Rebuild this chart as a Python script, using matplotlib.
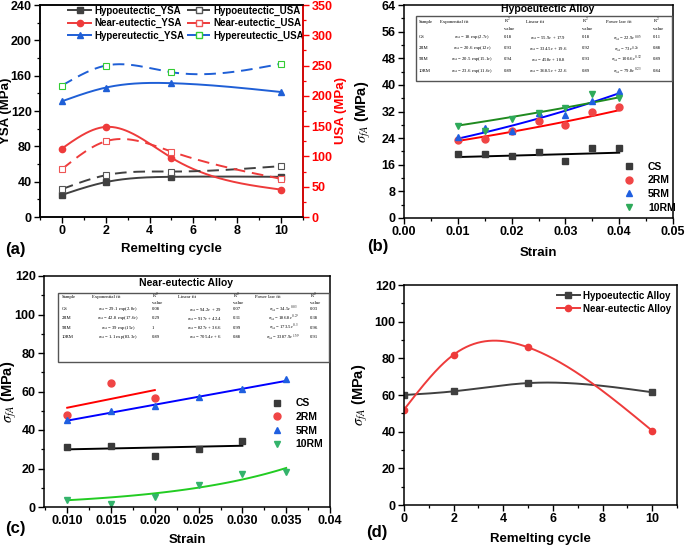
import numpy as np
import matplotlib
matplotlib.use("Agg")
import matplotlib.pyplot as plt
from matplotlib.patches import Rectangle
from matplotlib.ticker import MultipleLocator
from matplotlib.lines import Line2D

plt.rcParams['font.family'] = ['Liberation Sans', 'DejaVu Sans']
plt.rcParams['mathtext.fontset'] = 'stix'

# ---------------- data ----------------
cycles = [0, 2, 5, 10]
hypo_ysa = [25, 39.5, 45.5, 45.5]
near_ysa = [77.5, 102, 67, 31]
hyper_ysa = [131, 146.5, 151.5, 141.5]
hypo_usa = [46, 69, 75, 84]
near_usa = [79, 125, 108, 63]
hyper_usa = [217, 250, 239, 253]

strain_b = [0.010, 0.015, 0.020, 0.025, 0.030, 0.035, 0.040]
b_cs = [19.2, 19.2, 18.5, 19.8, 17.0, 21.1, 21.1]
b_2rm = [23.4, 23.6, 26.0, 29.2, 27.9, 31.7, 33.5]
b_5rm = [24.2, 27.0, 26.2, 31.5, 31.0, 35.3, 38.3]
b_10rm = [27.7, 26.2, 29.8, 31.5, 33.2, 37.3, 36.2]
# exponential fit lines a*exp(b*strain) as drawn
b_fit_a = [17.9, 20.7, 20.5, 25.4]
b_fit_b = [2.3, 11.2, 15.1, 8.9]

c_strain_cs = [0.010, 0.015, 0.020, 0.025, 0.030]
c_cs = [31.4, 31.9, 26.7, 30.2, 34.3]
c_strain_2rm = [0.010, 0.015, 0.020]
c_2rm = [47.7, 64.2, 56.7]
c_strain_5rm = [0.010, 0.015, 0.020, 0.025, 0.030, 0.035]
c_5rm = [45.4, 49.8, 52.4, 57.2, 61.4, 66.4]
c_strain_10rm = [0.010, 0.015, 0.020, 0.025, 0.030, 0.035]
c_10rm = [3.6, 1.7, 5.0, 11.4, 17.0, 18.4]
# fits (slope, intercept) and exponential (a, b)
c_lin_cs = (94.2, 29.0)
c_lin_2rm = (917.0, 42.4)
c_lin_5rm = (827.0, 36.6)
c_exp_10rm = (1.75, 70.0)

d_cycles = [0, 2, 5, 10]
d_hypo = [60, 62, 66.5, 61.5]
d_near = [52, 82, 86, 40.5]

samples = ['CS', '2RM', '5RM', '10RM']
tab_b_exp = [r'$\sigma_{fA}$ = 18 exp(2.7$\varepsilon$)', r'$\sigma_{fA}$ = 20.6 exp(12$\varepsilon$)',
             r'$\sigma_{fA}$ = 20.5 exp(15.1$\varepsilon$)', r'$\sigma_{fA}$ = 23.6 exp(11.6$\varepsilon$)']
tab_b_r1 = ['0.18', '0.93', '0.94', '0.89']
tab_b_lin = [r'$\sigma_{fA}$ = 55.9$\varepsilon$ + 17.9', r'$\sigma_{fA}$ = 334.5$\varepsilon$ + 19.6',
             r'$\sigma_{fA}$ = 458$\varepsilon$ + 18.8', r'$\sigma_{fA}$ = 368.5$\varepsilon$ + 22.6']
tab_b_r2 = ['0.18', '0.92', '0.93', '0.89']
tab_b_pow = [r'$\sigma_{fA}$ = 22.9$\varepsilon^{0.05}$', r'$\sigma_{fA}$ = 73$\varepsilon^{0.26}$',
             r'$\sigma_{fA}$ = 100.6$\varepsilon^{0.32}$', r'$\sigma_{fA}$ = 79.8$\varepsilon^{0.23}$']
tab_b_r3 = ['0.11', '0.88', '0.89', '0.84']

tab_c_exp = [r'$\sigma_{fA}$ = 29.1 exp(2.8$\varepsilon$)', r'$\sigma_{fA}$ = 42.8 exp(17.6$\varepsilon$)',
             r'$\sigma_{fA}$ = 39 exp(15$\varepsilon$)', r'$\sigma_{fA}$ = 1.1 exp(83.3$\varepsilon$)']
tab_c_r1 = ['0.08', '0.29', '1', '0.89']
tab_c_lin = [r'$\sigma_{fA}$ = 94.2$\varepsilon$ + 29', r'$\sigma_{fA}$ = 917$\varepsilon$ + 42.4',
             r'$\sigma_{fA}$ = 827$\varepsilon$ + 36.6', r'$\sigma_{fA}$ = 705.4$\varepsilon$ + 6']
tab_c_r2 = ['0.07', '0.31', '0.99', '0.88']
tab_c_pow = [r'$\sigma_{fA}$ = 34.5$\varepsilon^{0.03}$', r'$\sigma_{fA}$ = 186.8$\varepsilon^{0.29}$',
             r'$\sigma_{fA}$ = 173.5$\varepsilon^{0.3}$', r'$\sigma_{fA}$ = 3387.9$\varepsilon^{1.59}$']
tab_c_r3 = ['0.03', '0.38', '0.96', '0.91']


def nat_spline(x, y, n=200):
    x = np.asarray(x, float); y = np.asarray(y, float)
    m = len(x); h = np.diff(x)
    A = np.zeros((m, m)); r = np.zeros(m)
    A[0, 0] = 1; A[-1, -1] = 1
    for i in range(1, m - 1):
        A[i, i - 1] = h[i - 1]; A[i, i] = 2 * (h[i - 1] + h[i]); A[i, i + 1] = h[i]
        r[i] = 6 * ((y[i + 1] - y[i]) / h[i] - (y[i] - y[i - 1]) / h[i - 1])
    M = np.linalg.solve(A, r)
    xs = np.linspace(x[0], x[-1], n); ys = np.empty_like(xs)
    for k, t in enumerate(xs):
        i = min(np.searchsorted(x, t, side='right') - 1, m - 2)
        a = x[i + 1] - t; b = t - x[i]
        ys[k] = (M[i] * a**3 + M[i + 1] * b**3) / (6 * h[i]) + (y[i] / h[i] - M[i] * h[i] / 6) * a + \
                (y[i + 1] / h[i] - M[i + 1] * h[i] / 6) * b
    return xs, ys


W, H = 685, 546
fig = plt.figure(figsize=(W / 100, H / 100), dpi=100)


def add_ax(l, r, t, b):
    return fig.add_axes([l / W, (H - b) / H, (r - l) / W, (b - t) / H])


TICK = 9
LAB = 9.5


def style(ax):
    for s in ax.spines.values():
        s.set_linewidth(1.1)
    ax.tick_params(which='major', direction='out', length=4, width=1.0, labelsize=TICK, pad=2)
    ax.tick_params(which='minor', direction='out', length=2.2, width=0.9)
    for lb in ax.get_xticklabels() + ax.get_yticklabels():
        lb.set_fontweight('bold')


GRAY = '#404040'
RED = '#ee3b3b'
BLUE = '#1f5fd6'

# ---------------- (a) ----------------
ax = add_ax(40, 303, 5, 217)
ax2 = ax.twinx()
ax.set_xlim(-1, 11); ax.set_ylim(0, 240)
ax2.set_ylim(0, 350)
for yv, col, mk in [(hypo_ysa, GRAY, 's'), (near_ysa, RED, 'o'), (hyper_ysa, BLUE, '^')]:
    xs, ys = nat_spline(cycles, yv)
    ax.plot(xs, ys, color=col, lw=1.4)
    ax.plot(cycles, yv, ls='none', marker=mk, color=col, ms=4.5)
for yv, col, mcol in [(hypo_usa, GRAY, '#555555'), (near_usa, RED, '#ee5555'), (hyper_usa, BLUE, '#33cc33')]:
    xs, ys = nat_spline(cycles, yv)
    ax2.plot(xs, ys, color=col, lw=1.4, ls=(0, (6, 3.5)))
    ax2.plot(cycles, yv, ls='none', marker='s', mfc='white', mec=mcol, mew=0.8, ms=4.5)
ax.xaxis.set_major_locator(MultipleLocator(2)); ax.xaxis.set_minor_locator(MultipleLocator(1))
ax.yaxis.set_major_locator(MultipleLocator(40)); ax.yaxis.set_minor_locator(MultipleLocator(20))
ax2.yaxis.set_major_locator(MultipleLocator(50)); ax2.yaxis.set_minor_locator(MultipleLocator(25))
style(ax); style(ax2)
ax2.spines['right'].set_color('red')
ax2.tick_params(axis='y', which='both', colors='red')
for lb in ax2.get_yticklabels():
    lb.set_color('red'); lb.set_fontweight('bold')
ax.set_xlabel('Remelting cycle', fontsize=LAB, fontweight='bold')
ax.xaxis.set_label_coords(0.5, -0.123)
ax.set_ylabel('YSA (MPa)', fontsize=LAB, fontweight='bold')
ax.yaxis.set_label_coords(-0.108, 0.5)
ax2.set_ylabel('USA (MPa)', fontsize=LAB, fontweight='bold', color='red')
ax2.yaxis.set_label_coords(1.122, 0.5)
hs = [Line2D([], [], color=GRAY, lw=1.4, marker='s', ms=4.5),
      Line2D([], [], color=RED, lw=1.4, marker='o', ms=4.5),
      Line2D([], [], color=BLUE, lw=1.4, marker='^', ms=4.5),
      Line2D([], [], color=GRAY, lw=1.4, ls=(0, (5, 2)), marker='s', mfc='white', mec='#555555', ms=4.5),
      Line2D([], [], color=RED, lw=1.4, ls=(0, (5, 2)), marker='s', mfc='white', mec='#ee5555', ms=4.5),
      Line2D([], [], color=BLUE, lw=1.4, ls=(0, (5, 2)), marker='s', mfc='white', mec='#33cc33', ms=4.5)]
lbs = ['Hypoeutectic_YSA', 'Near-eutectic_YSA', 'Hypereutectic_YSA',
       'Hypoeutectic_USA', 'Near-eutectic_USA', 'Hypereutectic_USA']
ax.legend(hs, lbs, ncol=2, loc='upper left', bbox_to_anchor=(0.08, 1.03), frameon=False,
          prop={'size': 7, 'weight': 'bold'}, handlelength=2.4, columnspacing=0.3,
          handletextpad=0.3, labelspacing=0.25, borderpad=0.2)
fig.text(5 / W, 1 - 250 / H, '(a)', fontsize=12, fontweight='bold', va='center')

# ---------------- (b) ----------------
ax = add_ax(404, 673, 5, 218)
ax.set_xlim(0, 0.05); ax.set_ylim(0, 64)
mk_specs = [('s', '#3a3a3a'), ('o', '#f04545'), ('^', '#1f5fe0'), ('v', '#2eaa5a')]
line_cols_b = ['black', 'red', 'blue', '#1f8a1f']
for k in range(4):
    xs = np.linspace(min(strain_b), max(strain_b), 100)
    ax.plot(xs, b_fit_a[k] * np.exp(b_fit_b[k] * xs), color=line_cols_b[k], lw=1.4)
for k, yv in enumerate([b_cs, b_2rm, b_5rm, b_10rm]):
    ax.plot(strain_b, yv, ls='none', marker=mk_specs[k][0], color=mk_specs[k][1], ms=5, label=samples[k])
ax.xaxis.set_minor_locator(MultipleLocator(0.005))
ax.yaxis.set_major_locator(MultipleLocator(8)); ax.yaxis.set_minor_locator(MultipleLocator(4))
ax.set_xticks([0, 0.01, 0.02, 0.03, 0.04, 0.05])
ax.set_xticklabels(['0.00', '0.01', '0.02', '0.03', '0.04', '0.05'])
style(ax)
ax.set_xlabel('Strain', fontsize=LAB, fontweight='bold')
ax.xaxis.set_label_coords(0.5, -0.136)
ax.set_ylabel(r'$\sigma_{fA}$ (MPa)', fontsize=LAB + 1, fontweight='bold')
ax.yaxis.set_label_coords(-0.115, 0.5)
ax.legend(loc='lower right', frameon=False, prop={'size': 7.5, 'weight': 'bold'},
          handletextpad=0.8, labelspacing=0.35, borderaxespad=0.1, bbox_to_anchor=(1.03, 0.0))
fig.text(367 / W, 1 - 246 / H, '(b)', fontsize=12, fontweight='bold', va='center')


def draw_table(cols_x, rows_y, hdr_y, val_y, centers, box, data, title, title_xy):
    l, r, t, b = box

    def tr(x, y):
        return (x / W, 1 - y / H)
    fig.patches.append(Rectangle(tr(l, b), (r - l) / W, (b - t) / H, transform=fig.transFigure,
                                 fill=False, ec='#555555', lw=1.0))
    fs = 3.4
    hdrs = ['Sample', 'Exponential fit', 'R$^2$', 'Linear fit', 'R$^2$', 'Power law fit', 'R$^2$']
    for x, h in zip(cols_x, hdrs):
        fig.text(*tr(x, hdr_y), h, fontsize=fs, va='center', ha='left', family='Liberation Serif')
    for x in [cols_x[2], cols_x[4], cols_x[6]]:
        fig.text(*tr(x, val_y), 'value', fontsize=fs, va='center', ha='left', family='Liberation Serif')
    for i, yrow in enumerate(rows_y):
        fig.text(*tr(cols_x[0], yrow), samples[i], fontsize=fs, va='center', ha='left', family='Liberation Serif')
        for j, colv in enumerate(data):
            if j % 2 == 0:
                fig.text(*tr(centers[j // 2], yrow), colv[i], fontsize=fs, va='center', ha='center',
                         family='Liberation Serif')
            else:
                fig.text(*tr(cols_x[j + 1], yrow), colv[i], fontsize=fs, va='center', ha='left',
                         family='Liberation Serif')
    fig.text(*tr(*title_xy), title, fontsize=7.5, fontweight='bold', ha='center', va='center')


draw_table([419, 440, 504, 526, 582, 606, 653], [37.3, 48.3, 59.3, 71], 21.7, 29, [472, 548, 627],
           (416, 672, 16, 81),
           [tab_b_exp, tab_b_r1, tab_b_lin, tab_b_r2, tab_b_pow, tab_b_r3],
           'Hypoeutectic Alloy', (548, 9.5))

# ---------------- (c) ----------------
ax = add_ax(44, 330, 276, 507)
ax.set_xlim(0.00735, 0.04); ax.set_ylim(0, 120)
xs = np.linspace(min(c_strain_cs), max(c_strain_cs), 50)
ax.plot(xs, c_lin_cs[0] * xs + c_lin_cs[1], color='black', lw=1.4)
xs = np.linspace(min(c_strain_2rm), max(c_strain_2rm), 50)
ax.plot(xs, c_lin_2rm[0] * xs + c_lin_2rm[1], color='red', lw=1.4)
xs = np.linspace(min(c_strain_5rm), max(c_strain_5rm), 50)
ax.plot(xs, c_lin_5rm[0] * xs + c_lin_5rm[1], color='blue', lw=1.4)
xs = np.linspace(min(c_strain_10rm), max(c_strain_10rm), 100)
ax.plot(xs, c_exp_10rm[0] * np.exp(c_exp_10rm[1] * xs), color='#22cc22', lw=1.4)
mk_c = [('s', '#3a3a3a'), ('o', '#f04545'), ('^', '#1f5fe0'), ('v', '#33b36b')]
for k, (xv, yv) in enumerate([(c_strain_cs, c_cs), (c_strain_2rm, c_2rm), (c_strain_5rm, c_5rm),
                               (c_strain_10rm, c_10rm)]):
    ax.plot(xv, yv, ls='none', marker=mk_c[k][0], color=mk_c[k][1], ms=5, label=samples[k])
ax.set_xticks([0.010, 0.015, 0.020, 0.025, 0.030, 0.035, 0.040])
ax.set_xticklabels(['0.010', '0.015', '0.020', '0.025', '0.030', '0.035', '0.04'])
ax.xaxis.set_minor_locator(MultipleLocator(0.0025))
ax.yaxis.set_major_locator(MultipleLocator(20)); ax.yaxis.set_minor_locator(MultipleLocator(10))
style(ax)
ax.set_xlabel('Strain', fontsize=LAB, fontweight='bold')
ax.xaxis.set_label_coords(0.5, -0.118)
ax.set_ylabel(r'$\sigma_{fA}$ (MPa)', fontsize=LAB + 1, fontweight='bold')
ax.yaxis.set_label_coords(-0.088, 0.5)
ax.legend(loc='center right', frameon=False, prop={'size': 7.5, 'weight': 'bold'},
          handletextpad=0.8, labelspacing=0.35, bbox_to_anchor=(1.01, 0.36))
fig.text(5 / W, 1 - 528 / H, '(c)', fontsize=12, fontweight='bold', va='center')
draw_table([61.7, 91.7, 151.7, 178.3, 233.3, 255, 310], [309.3, 318.3, 327.7, 336.7],
           296.7, 303.3, [118.3, 205, 283.3], (58, 329, 293, 362),
           [tab_c_exp, tab_c_r1, tab_c_lin, tab_c_r2, tab_c_pow, tab_c_r3],
           'Near-eutectic Alloy', (186, 283.5))

# ---------------- (d) ----------------
ax = add_ax(404, 677, 285, 505)
ax.set_xlim(0, 11); ax.set_ylim(0, 120)
for yv, col, mk in [(d_hypo, GRAY, 's'), (d_near, RED, 'o')]:
    xs, ys = nat_spline(d_cycles, yv)
    ax.plot(xs, ys, color=col, lw=1.4)
    ax.plot(d_cycles, yv, ls='none', marker=mk, color=col, ms=4.5)
hs = [Line2D([], [], color=GRAY, lw=1.4, marker='s', ms=4.5),
      Line2D([], [], color=RED, lw=1.4, marker='o', ms=4.5)]
ax.legend(hs, ['Hypoeutectic Alloy', 'Near-eutectic Alloy'], loc='upper right', frameon=False,
          prop={'size': 7, 'weight': 'bold'}, handlelength=2.4, handletextpad=0.3, labelspacing=0.3,
          borderaxespad=0.2)
ax.xaxis.set_major_locator(MultipleLocator(2)); ax.xaxis.set_minor_locator(MultipleLocator(1))
ax.yaxis.set_major_locator(MultipleLocator(20)); ax.yaxis.set_minor_locator(MultipleLocator(10))
style(ax)
ax.set_xlabel('Remelting cycle', fontsize=LAB, fontweight='bold')
ax.xaxis.set_label_coords(0.5, -0.127)
ax.set_ylabel(r'$\sigma_{fA}$ (MPa)', fontsize=LAB + 1, fontweight='bold')
ax.yaxis.set_label_coords(-0.125, 0.5)
fig.text(366 / W, 1 - 533 / H, '(d)', fontsize=12, fontweight='bold', va='center')

fig.savefig('out.png', dpi=100)
